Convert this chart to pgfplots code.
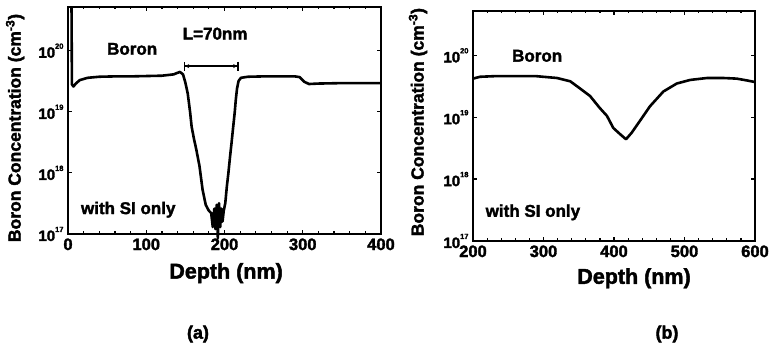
\documentclass[border=0pt]{standalone}
\usepackage{fontspec}
\setmainfont{Liberation Sans}[BoldFeatures={FakeBold=2}]
\usepackage{pgfplots}
\pgfplotsset{compat=1.18}
\usetikzlibrary{arrows.meta}

% small raised exponent for the decade labels
\newcommand\ex[1]{\raisebox{0.6em}{\fontsize{7.5bp}{8bp}\selectfont #1}}

\pgfplotsset{
  depthaxis/.style={
    scale only axis,
    ymin=1e17, ymax=5.2e20,
    axis line style={line width=2bp},
    every tick/.style={line width=1.2bp, black},
    major tick length=4bp,
    minor tick length=2.5bp,
    tick align=inside,
    minor x tick num=4,
    yminorticks=false,
    /pgf/number format/assume math mode=true,
    ytick={1e17,1e18,1e19,1e20},
    yticklabels={10\ex{17},10\ex{18},10\ex{19},10\ex{20}},
    yticklabel style={font=\fontsize{15bp}{15bp}\selectfont\bfseries, xshift=-1bp},
    xticklabel style={font=\fontsize{16.5bp}{16.5bp}\selectfont\bfseries, yshift=-1bp},
    xlabel={Depth (nm)},
    ylabel={Boron Concentration (cm\textsuperscript{-3})},
    xlabel style={font=\fontsize{21.5bp}{22bp}\selectfont\bfseries, anchor=center},
    ylabel style={font=\fontsize{17.5bp}{18bp}\selectfont\bfseries, anchor=center},
    clip=false,
  },
  profile/.style={black, line width=2.6bp, line join=round, no markers},
}

\tikzset{note/.style={font=\fontsize{17bp}{17bp}\selectfont\bfseries}}

\begin{document}
\begin{tikzpicture}
\useasboundingbox (0,0) rectangle (771bp,348bp);

% ---------- (a) 70 nm window ----------
\begin{semilogyaxis}[depthaxis,
  at={(68bp,114bp)}, anchor=south west,
  width=313bp, height=227bp,
  xmin=0, xmax=400, xtick={0,100,200,300,400},
  xlabel style={at={(axis description cs:0.505,-0.172)}},
  ylabel style={at={(axis description cs:-0.169,0.467)}},
]
\addplot[profile] coordinates {
(4.5,5.2e20) (5,2.8e19) (7,2.6e19) (10,2.9e19) (15,3.3e19) (25,3.6e19)
(40,3.75e19) (60,3.8e19) (80,3.8e19) (100,3.85e19) (120,3.9e19)
(135,4.1e19) (143,4.5e19) (147,4.1e19) (150,3.0e19) (153,2.0e19)
(156,1.0e19) (158,5.7e18) (161,3.6e18) (164,2.4e18) (168,1.3e18)
(172,5.3e17) (176,3.0e17) (180,2.4e17) (183,2.2e17) (185,1.3e17)
(187,2.6e17) (188.5,1.2e17) (190,3.0e17) (191.5,8.5e16) (193,3.2e17)
(194.5,1.3e17) (196,2.6e17) (197.5,1.6e17) (199,2.4e17) (201,3.2e17)
(203,6e17) (205,1.0e18) (207,1.8e18) (209,3.1e18) (211,5.5e18)
(213,9.6e18) (214.5,1.6e19) (216,2.4e19) (218,3.2e19) (221,3.6e19)
(230,3.75e19) (250,3.8e19) (270,3.8e19) (290,3.8e19) (296,3.7e19)
(302,3.1e19) (308,2.85e19) (320,2.9e19) (350,2.95e19) (380,2.95e19)
(400,2.95e19)
};
\node[note] at (axis cs:82,1.07e20) {Boron};
\node[note] at (axis cs:77,2.5e17) {with SI only};
\node[note] at (axis cs:188,1.9e20) {L=70nm};
\draw[line width=1.4bp,
  {Bar[width=9bp]Stealth[length=4bp,width=4bp]}-{Stealth[length=4bp,width=4bp]Bar[width=9bp]}]
  (axis cs:148,5.6e19) -- (axis cs:218,5.6e19);
\end{semilogyaxis}

% ---------- (b) wide window ----------
\begin{semilogyaxis}[depthaxis,
  at={(473bp,107bp)}, anchor=south west,
  width=282bp, height=230bp,
  xmin=200, xmax=600, xtick={200,300,400,500,600},
  xlabel style={at={(axis description cs:0.571,-0.162)}},
  ylabel style={at={(axis description cs:-0.195,0.517)}},
]
\addplot[profile] coordinates {
(200,4.2e19) (210,4.5e19) (230,4.6e19) (260,4.6e19) (290,4.6e19)
(319,4.3e19) (338,3.8e19) (352,2.9e19) (366,2.2e19) (380,1.4e19)
(390,1.05e19) (399,6.7e18) (408,5.4e18) (417,4.4e18) (425,5.6e18)
(437,8.8e18) (451,1.5e19) (470,2.6e19) (489,3.5e19) (508,4.0e19)
(532,4.3e19) (555,4.3e19) (574,4.2e19) (590,3.9e19) (600,3.7e19)
};
\node[note] at (axis cs:291,9.8e19) {Boron};
\node[note] at (axis cs:285,2.9e17) {with SI only};
\end{semilogyaxis}

\node[font=\fontsize{18bp}{18bp}\selectfont\bfseries] at (198bp,14bp) {(a)};
\node[font=\fontsize{18bp}{18bp}\selectfont\bfseries] at (667bp,14bp) {(b)};
\end{tikzpicture}
\end{document}
